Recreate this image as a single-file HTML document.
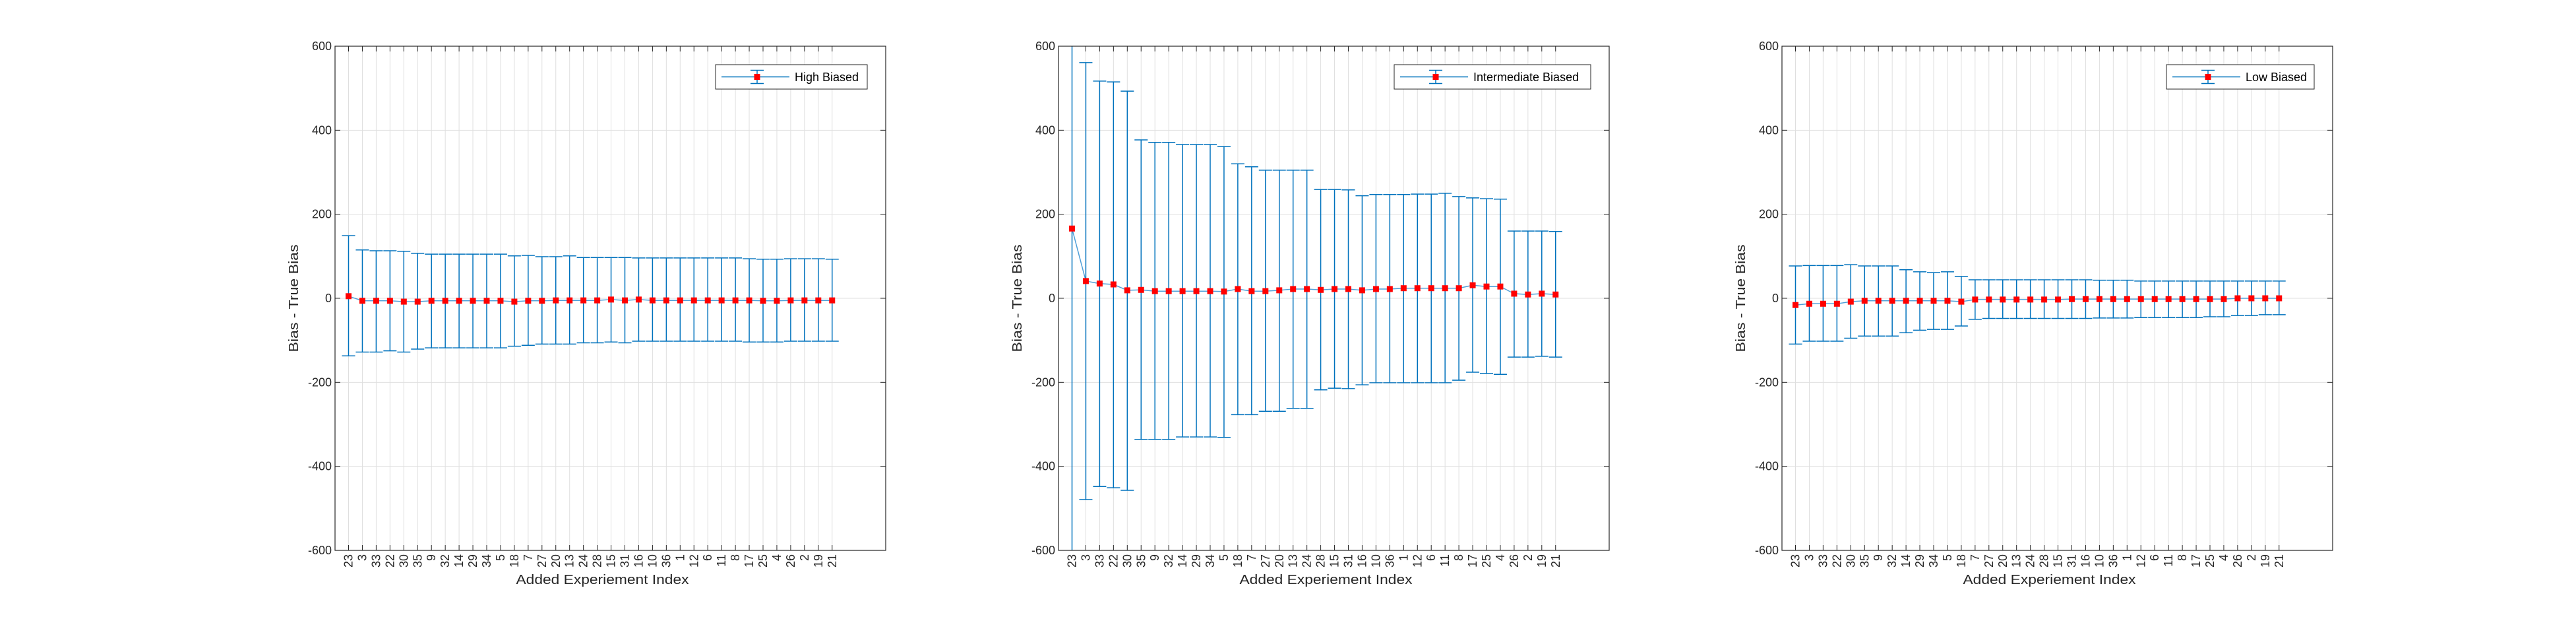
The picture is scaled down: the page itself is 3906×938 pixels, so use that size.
<!DOCTYPE html>
<html><head><meta charset="utf-8"><style>
html,body{margin:0;padding:0;background:#fff;}
svg{display:block;font-family:"Liberation Sans",Arial,sans-serif;}
</style></head><body>
<svg id="chart" width="3906" height="938" viewBox="0 0 3906 938" xmlns="http://www.w3.org/2000/svg">
<rect x="0" y="0" width="3906" height="938" fill="#ffffff"/>
</svg>
<script>
const categories = ["23","3","33","22","30","35","9","32","14","29","34","5","18","7","27","20","13","24","28","15","31","16","10","36","1","12","6","11","8","17","25","4","26","2","19","21"];
const yTicks = [-600,-400,-200,0,200,400,600];
const yTickLabels = ["-600","-400","-200","0","200","400","600"];

const highMean = [5,-6,-6,-6,-8,-8,-6,-6,-6,-6,-6,-6,-8,-6,-6,-5,-5,-5,-5,-3,-5,-3,-5,-5,-5,-5,-5,-5,-5,-5,-6,-6,-5,-5,-5,-5];
const highUpper = [149,115,113,113,112,107,105,105,105,105,105,105,101,102,99,99,101,97,97,97,97,96,96,96,96,96,96,96,96,94,93,93,94,94,94,93];
const highLower = [-137,-128,-128,-125,-128,-121,-118,-118,-118,-118,-118,-118,-114,-112,-109,-109,-109,-106,-106,-104,-106,-102,-102,-102,-102,-102,-102,-102,-102,-104,-104,-104,-102,-102,-102,-102];

const interMean = [166,41,35,33,19,20,17,17,17,17,17,16,22,17,17,19,22,22,20,22,22,19,22,22,24,24,24,24,24,31,28,28,11,9,11,9];
const interUpper = [970,561,517,515,493,377,371,371,366,366,366,361,320,313,305,305,305,305,259,259,258,244,247,247,247,248,248,250,242,239,237,236,160,160,160,159];
const interLower = [-640,-479,-448,-451,-457,-336,-336,-336,-330,-330,-330,-331,-277,-277,-269,-269,-262,-262,-218,-214,-215,-206,-201,-201,-201,-201,-201,-201,-195,-176,-179,-181,-140,-140,-138,-140];

const lowMean = [-16,-13,-13,-13,-8,-6,-6,-6,-6,-6,-6,-6,-8,-3,-3,-3,-3,-3,-3,-3,-2,-2,-2,-2,-2,-2,-2,-2,-2,-2,-2,-2,0,0,0,0];
const lowUpper = [77,78,78,78,80,77,77,77,68,63,61,63,52,44,44,44,44,44,44,44,44,44,43,43,43,41,41,41,41,41,41,41,41,41,41,41];
const lowLower = [-109,-102,-102,-102,-95,-90,-90,-90,-82,-76,-74,-74,-66,-50,-48,-48,-48,-48,-48,-48,-48,-48,-47,-47,-47,-46,-46,-46,-46,-46,-44,-44,-41,-41,-39,-39];

const NS = "http://www.w3.org/2000/svg";
const svg = document.getElementById('chart');
function mk(tag, attrs, parent){
  const e = document.createElementNS(NS, tag);
  for (const k in attrs) e.setAttribute(k, attrs[k]);
  (parent||svg).appendChild(e);
  return e;
}

const TOP = 70, BOT = 834, W = 835;
function drawPanel(cfg){
  const g = mk('g', {});
  
  
  const L = cfg.left, R = L + W;
  const firstX = L + 20.5, step = 20.95;
  const xScale = i => firstX + i*step;
  const yScale = v => TOP + (600 - v) * (BOT - TOP) / 1200;
  const clipId = 'clip-' + cfg.name;
  const cp = mk('clipPath', {id: clipId}, g);
  mk('rect', {x:L, y:TOP, width:W, height:BOT-TOP}, cp);

  // grid
  const grid = mk('g', {stroke:'#dfdfdf','stroke-width':1}, g);
  
  
  categories.forEach((c,i)=>{ mk('line',{x1:xScale(i),x2:xScale(i),y1:TOP,y2:BOT},grid); });
  yTicks.forEach(v=>{ mk('line',{x1:L,x2:R,y1:yScale(v),y2:yScale(v)},grid); });

  // ticks
  const tk = mk('g', {stroke:'#262626','stroke-width':1}, g);
  categories.forEach((c,i)=>{
    const x = xScale(i);
    mk('line',{x1:x,x2:x,y1:BOT,y2:BOT-8},tk);
    mk('line',{x1:x,x2:x,y1:TOP,y2:TOP+8},tk);
  });
  yTicks.forEach(v=>{
    const y = yScale(v);
    mk('line',{x1:L,x2:L+8,y1:y,y2:y},tk);
    mk('line',{x1:R,x2:R-8,y1:y,y2:y},tk);
  });

  // data
  const dg = mk('g', {'clip-path':'url(#'+clipId+')'}, g);
  
  
  const pts = cfg.mean.map((m,i)=>xScale(i).toFixed(1)+','+yScale(m).toFixed(1)).join(' ');
  const ln = mk('polyline',{points:pts,fill:'none',stroke:'#4f9fd8','stroke-width':1.5},dg);
  
  
  cfg.mean.forEach((m,i)=>{
    const x = xScale(i), yu = yScale(cfg.upper[i]), yl = yScale(cfg.lower[i]);
    const eb = mk('g',{stroke:'#0072BD','stroke-width':1.5},dg);
    
    
    mk('line',{x1:x,x2:x,y1:yu,y2:yl},eb);
    mk('line',{x1:x-10,x2:x+10,y1:yu,y2:yu},eb);
    mk('line',{x1:x-10,x2:x+10,y1:yl,y2:yl},eb);
  });
  cfg.mean.forEach((m,i)=>{
    const r = mk('rect',{x:xScale(i)-4.5,y:yScale(m)-4.5,width:9,height:9,fill:'#ff0000'},dg);
    
    
  });

  // box
  mk('rect',{x:L,y:TOP,width:W,height:BOT-TOP,fill:'none',stroke:'#262626','stroke-width':1.2},g);

  // labels
  const yl = mk('g',{'font-size':18,fill:'#262626','text-anchor':'end'},g);
  
  
  yTicks.forEach((v,k)=>{ const t=mk('text',{x:L-5,y:yScale(v)+6},yl); t.textContent=yTickLabels[k]; });
  const xl = mk('g',{'font-size':18,fill:'#262626','text-anchor':'end'},g);
  
  
  categories.forEach((c,i)=>{
    const x = xScale(i)+6, y = 840;
    const t = mk('text',{x:x,y:y,transform:'rotate(-90 '+x+' '+y+')'},xl);
    t.textContent = c;
  });
  const xt = mk('text',{x:L+W/2-12,y:885,'font-size':20,fill:'#262626','text-anchor':'middle',textLength:262,lengthAdjust:'spacingAndGlyphs'},g);
  
  
  xt.textContent = 'Added Experiement Index';
  const yx = L-56, yy = 452;
  const yt = mk('text',{x:yx,y:yy,'font-size':20,fill:'#262626','text-anchor':'middle',transform:'rotate(-90 '+yx+' '+yy+')',textLength:163,lengthAdjust:'spacingAndGlyphs'},g);
  
  
  yt.textContent = 'Bias - True Bias';

  // legend
  const lg = mk('g',{},g);
  
  
  const bx = R - 28 - cfg.legW;
  mk('rect',{x:bx,y:98,width:cfg.legW,height:37,fill:'#fff',stroke:'#262626','stroke-width':1},lg);
  const my = 116.5, mx = bx + 63;
  const lsg = mk('g',{stroke:'#0072BD','stroke-width':1.5},lg);
  mk('line',{x1:bx+9,x2:bx+112,y1:my,y2:my},lsg);
  mk('line',{x1:mx,x2:mx,y1:my-10,y2:my+10},lsg);
  mk('line',{x1:mx-10,x2:mx+10,y1:my-10,y2:my-10},lsg);
  mk('line',{x1:mx-10,x2:mx+10,y1:my+10,y2:my+10},lsg);
  mk('rect',{x:mx-4.5,y:my-4.5,width:9,height:9,fill:'#ff0000'},lg);
  const lt = mk('text',{x:bx+120,y:my+6.5,'font-size':18,fill:'#000'},lg);
  lt.textContent = cfg.label;
}

drawPanel({name:'high-biased', left:508, mean:highMean, upper:highUpper, lower:highLower, label:'High Biased', legW:230});
drawPanel({name:'intermediate-biased', left:1605, mean:interMean, upper:interUpper, lower:interLower, label:'Intermediate Biased', legW:298});
drawPanel({name:'low-biased', left:2702, mean:lowMean, upper:lowUpper, lower:lowLower, label:'Low Biased', legW:224});
</script>
</body></html>
